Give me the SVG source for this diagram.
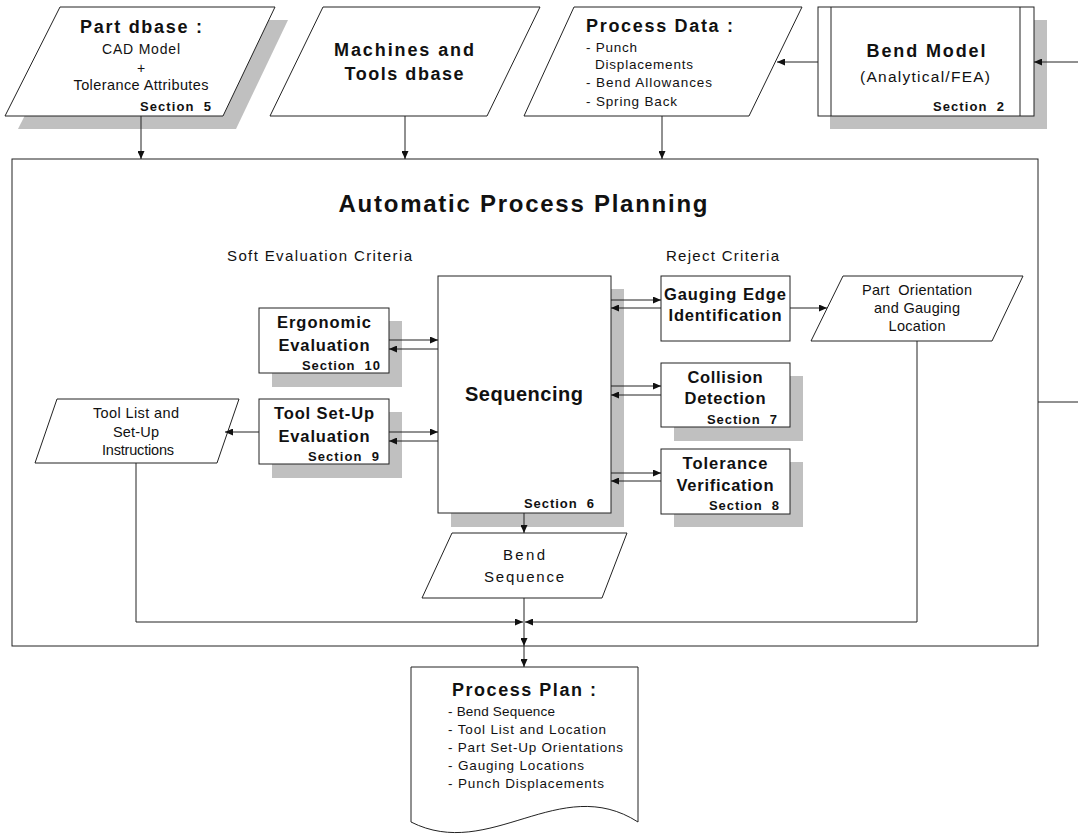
<svg xmlns="http://www.w3.org/2000/svg" width="1078" height="839" viewBox="0 0 1078 839">
<style>
.sh{fill:#c0c0c0;stroke:none}
.nd{fill:#fff;stroke:#222;stroke-width:1}
.ln{fill:none;stroke:#222;stroke-width:1}
.ar{marker-end:url(#ah)}
text{font-family:"Liberation Sans",Arial,Helvetica,sans-serif;fill:#111}
.b{font-weight:bold}
.c{text-anchor:middle}
.pre{white-space:pre}
.sec{font-weight:bold;font-size:13px;white-space:pre}
.lbl{font-weight:bold;font-size:16.5px;text-anchor:middle}
.sm{font-size:14.5px;text-anchor:middle}
</style>
<defs>
<marker id="ah" markerWidth="8" markerHeight="7" refX="8" refY="3.5" orient="auto" markerUnits="userSpaceOnUse"><path d="M0,0 L8,3.5 L0,7 z" fill="#111"/></marker>
</defs>
<rect width="1078" height="839" fill="#fff"/>

<g id="planning-box">
<rect class="nd" x="12" y="159" width="1026" height="487"/>
<text class="b c" x="523" y="212" font-size="24" textLength="369" lengthAdjust="spacing">Automatic Process Planning</text>
<text x="227" y="261" font-size="15" textLength="185" lengthAdjust="spacing">Soft Evaluation Criteria</text>
<text x="666" y="261" font-size="15" textLength="113" lengthAdjust="spacing">Reject Criteria</text>
</g>

<g id="part-dbase">
<polygon class="sh" points="73,20 288,20 236,129 18,129"/>
<polygon class="nd" points="60,7 275,7 223,116 5,116"/>
<text class="b c" x="141" y="33" font-size="18" textLength="122" lengthAdjust="spacing">Part dbase :</text>
<text class="c" x="141" y="54" font-size="14" textLength="78" lengthAdjust="spacing">CAD Model</text>
<text class="c" x="141" y="73" font-size="14">+</text>
<text class="c" x="141" y="90" font-size="14.5" textLength="135" lengthAdjust="spacing">Tolerance Attributes</text>
<text class="sec" x="140" y="111" textLength="71" lengthAdjust="spacing">Section  5</text>
</g>

<g id="machines-dbase">
<polygon class="nd" points="323,7 540,7 487,116 270,116"/>
<text class="b c" x="404" y="56" font-size="18" textLength="140" lengthAdjust="spacing">Machines and</text>
<text class="b c" x="404" y="80" font-size="18" textLength="119" lengthAdjust="spacing">Tools dbase</text>
</g>

<g id="process-data">
<polygon class="nd" points="574,7 802,7 749,116 524,116"/>
<text class="b" x="586" y="32" font-size="18" textLength="147" lengthAdjust="spacing">Process Data :</text>
<text x="586" y="52" font-size="13.5" textLength="51" lengthAdjust="spacing">- Punch</text>
<text x="595" y="69" font-size="13.5" textLength="98" lengthAdjust="spacing">Displacements</text>
<text x="586" y="87" font-size="13.5" textLength="126" lengthAdjust="spacing">- Bend Allowances</text>
<text x="586" y="106" font-size="13.5" textLength="91" lengthAdjust="spacing">- Spring Back</text>
</g>

<g id="bend-model">
<rect class="sh" x="830" y="20" width="217" height="109"/>
<rect class="nd" x="818" y="7" width="216" height="109"/>
<line class="ln" x1="831" y1="7" x2="831" y2="116"/>
<line class="ln" x1="1020" y1="7" x2="1020" y2="116"/>
<text class="b c" x="926" y="57" font-size="18" textLength="119" lengthAdjust="spacing">Bend Model</text>
<text class="c" x="925" y="82" font-size="15.5" textLength="130" lengthAdjust="spacing">(Analytical/FEA)</text>
<text class="sec" x="933" y="111" textLength="71" lengthAdjust="spacing">Section  2</text>
</g>

<g id="ergonomic">
<rect class="sh" x="272" y="321" width="130" height="66"/>
<rect class="nd" x="259" y="308" width="130" height="65"/>
<text class="lbl" x="324" y="328" textLength="94" lengthAdjust="spacing">Ergonomic</text>
<text class="lbl" x="324" y="351" textLength="91" lengthAdjust="spacing">Evaluation</text>
<text class="sec" x="302" y="370" textLength="78" lengthAdjust="spacing">Section  10</text>
</g>

<g id="tool-setup">
<rect class="sh" x="272" y="412" width="130" height="66"/>
<rect class="nd" x="259" y="399" width="130" height="65"/>
<text class="lbl" x="324" y="419" textLength="100" lengthAdjust="spacing">Tool Set-Up</text>
<text class="lbl" x="324" y="442" textLength="91" lengthAdjust="spacing">Evaluation</text>
<text class="sec" x="308" y="461" textLength="71" lengthAdjust="spacing">Section  9</text>
</g>

<g id="tool-list">
<polygon class="nd" points="57,399 239,399 217,463 35,463"/>
<text class="sm" x="136" y="418" textLength="86" lengthAdjust="spacing">Tool List and</text>
<text class="sm" x="136" y="437" textLength="46" lengthAdjust="spacing">Set-Up</text>
<text class="sm" x="138" y="455" textLength="72" lengthAdjust="spacing">Instructions</text>
</g>

<g id="sequencing">
<rect class="sh" x="451" y="289" width="173" height="238"/>
<rect class="nd" x="438" y="276" width="173" height="237"/>
<text class="b c" x="524" y="401" font-size="20" textLength="118" lengthAdjust="spacing">Sequencing</text>
<text class="sec" x="524" y="508" textLength="70" lengthAdjust="spacing">Section  6</text>
</g>

<g id="gauging-edge">
<rect class="nd" x="661" y="276" width="129" height="65"/>
<text class="lbl" x="725" y="300" textLength="122" lengthAdjust="spacing">Gauging Edge</text>
<text class="lbl" x="725" y="321" textLength="113" lengthAdjust="spacing">Identification</text>
</g>

<g id="collision">
<rect class="sh" x="674" y="376" width="129" height="65"/>
<rect class="nd" x="661" y="363" width="129" height="64"/>
<text class="lbl" x="725" y="383" textLength="75" lengthAdjust="spacing">Collision</text>
<text class="lbl" x="725" y="404" textLength="81" lengthAdjust="spacing">Detection</text>
<text class="sec" x="707" y="424" textLength="70" lengthAdjust="spacing">Section  7</text>
</g>

<g id="tolerance">
<rect class="sh" x="674" y="462" width="129" height="65"/>
<rect class="nd" x="661" y="449" width="129" height="65"/>
<text class="lbl" x="725" y="469" textLength="85" lengthAdjust="spacing">Tolerance</text>
<text class="lbl" x="725" y="491" textLength="97" lengthAdjust="spacing">Verification</text>
<text class="sec" x="709" y="510" textLength="70" lengthAdjust="spacing">Section  8</text>
</g>

<g id="part-orientation">
<polygon class="nd" points="843,276 1023,276 992,341 811,341"/>
<text class="sm pre" x="917" y="295" textLength="110" lengthAdjust="spacing">Part  Orientation</text>
<text class="sm" x="917" y="313" textLength="86" lengthAdjust="spacing">and Gauging</text>
<text class="sm" x="917" y="331" textLength="57" lengthAdjust="spacing">Location</text>
</g>

<g id="bend-sequence">
<polygon class="nd" points="452,533 627,533 602,598 422,598"/>
<text class="c" x="524" y="560" font-size="15" textLength="42" lengthAdjust="spacing">Bend</text>
<text class="c" x="524" y="582" font-size="15" textLength="80" lengthAdjust="spacing">Sequence</text>
</g>

<g id="process-plan">
<path class="nd" d="M411,667 H638 V822 C560,772 490,862 411,822 Z"/>
<text class="b c" x="524" y="696" font-size="18" textLength="144" lengthAdjust="spacing">Process Plan :</text>
<text x="448" y="716" font-size="13.5" textLength="107" lengthAdjust="spacing">- Bend Sequence</text>
<text x="448" y="734" font-size="13.5" textLength="158" lengthAdjust="spacing">- Tool List and Location</text>
<text x="448" y="752" font-size="13.5" textLength="175" lengthAdjust="spacing">- Part Set-Up Orientations</text>
<text x="448" y="770" font-size="13.5" textLength="136" lengthAdjust="spacing">- Gauging Locations</text>
<text x="448" y="788" font-size="13.5" textLength="156" lengthAdjust="spacing">- Punch Displacements</text>
</g>

<g id="connectors">
<path class="ln ar" d="M141,116 V159"/>
<path class="ln ar" d="M405,116 V159"/>
<path class="ln ar" d="M662,116 V159"/>
<path class="ln ar" d="M818,62 H777"/>
<path class="ln ar" d="M1078,62 H1034"/>
<path class="ln" d="M1038,402 H1078"/>
<path class="ln ar" d="M389,340 H438"/>
<path class="ln ar" d="M438,349 H389"/>
<path class="ln ar" d="M389,432 H438"/>
<path class="ln ar" d="M438,441 H389"/>
<path class="ln ar" d="M259,432 H225"/>
<path class="ln ar" d="M611,300 H661"/>
<path class="ln ar" d="M661,308 H611"/>
<path class="ln ar" d="M611,386 H661"/>
<path class="ln ar" d="M661,395 H611"/>
<path class="ln ar" d="M611,473 H661"/>
<path class="ln ar" d="M661,481 H611"/>
<path class="ln ar" d="M790,308 H827"/>
<path class="ln ar" d="M524,513 V533"/>
<path class="ln ar" d="M136,463 V622 H523"/>
<path class="ln ar" d="M917,341 V622 H525"/>
<path class="ln ar" d="M524,598 V646"/>
<path class="ln ar" d="M524,646 V667"/>
</g>
</svg>
